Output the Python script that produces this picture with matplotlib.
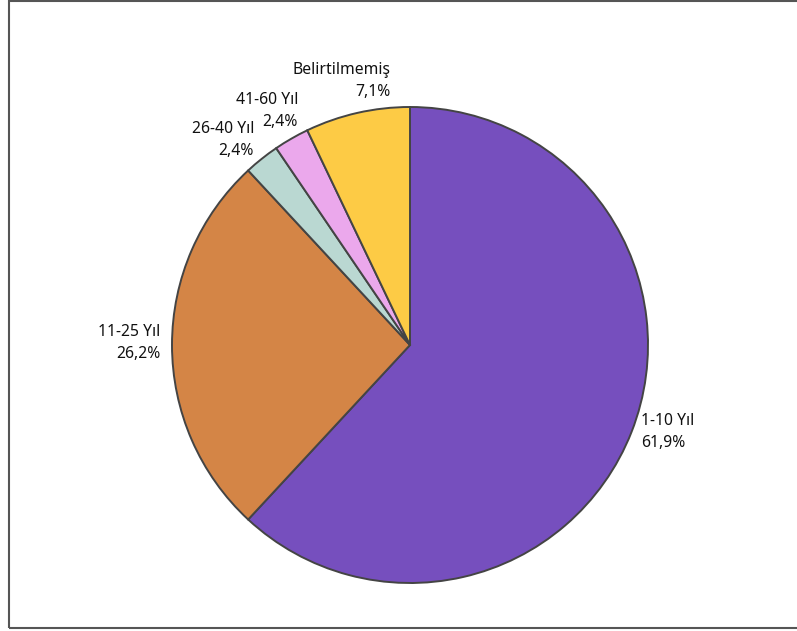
import matplotlib
matplotlib.use("Agg")
import matplotlib.pyplot as plt
from matplotlib.patches import Rectangle

# data
categories = ["1-10 Yıl", "11-25 Yıl", "26-40 Yıl", "41-60 Yıl", "Belirtilmemiş"]
percent = [61.9, 26.2, 2.4, 2.4, 7.1]
pct_labels = ["61,9%", "26,2%", "2,4%", "2,4%", "7,1%"]
colors = ["#764FBE", "#D48546", "#BAD8D2", "#EBA8EC", "#FDCB45"]

# label anchors (in pie-radius units) and alignment, Excel "best fit" style
label_pos = [(0.971, -0.366), (-1.050, 0.008), (-0.655, 0.861),
             (-0.471, 0.983), (-0.084, 1.109)]
label_ha = ["left", "right", "right", "right", "right"]

plt.rcParams['font.family'] = ['Noto Sans', 'DejaVu Sans']

W, H = 797, 631
fig = plt.figure(figsize=(W / 100, H / 100), dpi=100)

cx, cy, r = 410, 345, 238
ax = fig.add_axes([(cx - r) / W, (H - cy - r) / H, 2 * r / W, 2 * r / H])

ax.pie(percent, colors=colors, startangle=90, counterclock=False, radius=1,
       wedgeprops=dict(edgecolor="#444444", linewidth=1.4))
ax.set_xlim(-1, 1)
ax.set_ylim(-1, 1)
ax.set_aspect("equal")

for cat, pl, (x, y), ha in zip(categories, pct_labels, label_pos, label_ha):
    ax.text(x, y, cat + "\n" + pl, ha=ha, va="center", multialignment=ha,
            fontsize=11.3, linespacing=1.45, color="#111111", clip_on=False)

# chart frame (right edge falls outside the image)
fig.patches.append(Rectangle((9 / W, 3 / H), 1.0, (H - 4) / H,
                             transform=fig.transFigure, fill=False,
                             edgecolor="#555555", linewidth=1.5))

fig.savefig("out.png", dpi=100)
